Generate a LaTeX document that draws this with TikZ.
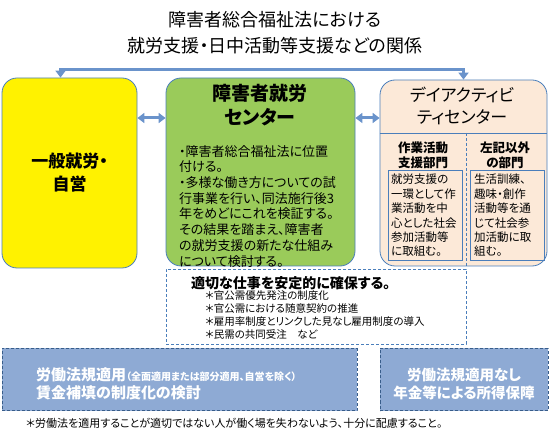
\documentclass[tikz,border=0pt]{standalone}
\usepackage{fontspec}
\setmainfont{Noto Sans CJK JP}[RawFeature=+palt]
\usetikzlibrary{arrows.meta, calc}
\definecolor{lineblue}{HTML}{4A7EBB}
\definecolor{darkblue}{HTML}{385D8A}
\definecolor{arrowblue}{HTML}{6A93CB}
\definecolor{boxgreen}{HTML}{9ACB5A}
\definecolor{boxpeach}{HTML}{FCE9D8}
\definecolor{boxsteel}{HTML}{8EAAD4}

\tikzset{
  roundbox/.style={draw=lineblue, line width=0.8pt, rounded corners=15pt, inner sep=0pt},
  flatbox/.style={draw=darkblue, line width=0.8pt, densely dashed, inner sep=0pt},
  innerbox/.style={draw=lineblue, line width=0.6pt, inner sep=0pt},
  link/.style={arrowblue, line width=3pt, {Triangle[width=10pt,length=7pt]}-{Triangle[width=10pt,length=7pt]}},
  para/.style={anchor=north west, inner sep=0pt, align=left},
}

\begin{document}
\begin{tikzpicture}[x=1pt, y=-1pt]
  \useasboundingbox (0,0) rectangle (549,438);

  % title
  \node[font=\fontsize{18}{26}\selectfont, align=center] (title) at (275,33)
    {障害者総合福祉法における\\就労支援・日中活動等支援などの関係};

  % three columns
  \node[roundbox, fill=yellow, minimum width=135pt, minimum height=190pt,
        font=\bfseries\fontsize{17}{23}\selectfont, align=center] (ippan) at (69.5,173)
    {一般就労・\\自営};
  \node[roundbox, fill=boxgreen, minimum width=189pt, minimum height=188pt] (shuro) at (260.5,172) {};
  \node[roundbox, fill=boxpeach, minimum width=167pt, minimum height=186pt] (dayact) at (463.5,173) {};

  \node[font=\bfseries\fontsize{19}{24}\selectfont, align=center] (shurotitle) at (260,105)
    {障害者就労\\センター};
  \node[para, font=\fontsize{13}{15.7}\selectfont] (shurobody) at (179,145)
    {・障害者総合福祉法に位置\\付ける。\\・多様な働き方についての試\\行事業を行い、同法施行後3\\年をめどにこれを検証する。\\その結果を踏まえ、障害者\\の就労支援の新たな仕組み\\について検討する。};

  \node[font=\fontsize{17}{22}\selectfont, align=center] (daytitle) at (462,106)
    {デイアクティビ\\ティセンター};
  \coordinate (sep) at (0,133);
  \draw[lineblue, line width=0.8pt] (dayact.west |- sep) -- (dayact.east |- sep);
  \draw[lineblue, line width=0.8pt, densely dashed] (466,133) -- (dayact.south -| 466,0);

  \node[font=\bfseries\fontsize{12.5}{15}\selectfont, align=center] (sagyo) at (423,155) {作業活動\\支援部門};
  \node[font=\bfseries\fontsize{12.5}{15}\selectfont, align=center] (sonota) at (505,155) {左記以外\\の部門};
  \node[innerbox, minimum width=74pt, minimum height=90pt] (sagyobox) at (425,215) {};
  \node[innerbox, minimum width=74pt, minimum height=90pt] (sonotabox) at (507,215) {};
  \node[para, font=\fontsize{11.5}{14.4}\selectfont] (sagyotxt) at (391,174)
    {就労支援の\\一環として作\\業活動を中\\心とした社会\\参加活動等\\に取組む。};
  \node[para, font=\fontsize{11.5}{14.4}\selectfont] (sonotatxt) at (474,174)
    {生活訓練、\\趣味・創作\\活動等を通\\じて社会参\\加活動に取\\組む。};

  % connectors
  \coordinate (bar) at (260,70);
  \coordinate (arow) at (0,118);
  \draw[link] ([xshift=-9pt]ippan.north) |- (bar) -| (dayact.north);
  \draw[link] (ippan.east |- arow) -- (shuro.west |- arow);
  \draw[link] (shuro.east |- arow) -- (dayact.west |- arow);

  % work box
  \node[flatbox, draw=lineblue, fill=white, minimum width=300pt, minimum height=75pt] (shigoto) at (316,306.5) {};
  \node[anchor=west, inner sep=0pt, font=\bfseries\fontsize{14}{16}\selectfont] (shigototitle) at (191,283)
    {適切な仕事を安定的に確保する。};
  \node[para, font=\fontsize{10.5}{13.2}\selectfont] (shigotolist) at (205,290)
    {＊官公需優先発注の制度化\\＊官公需における随意契約の推進\\＊雇用率制度とリンクした見なし雇用制度の導入\\＊民需の共同受注　など};

  % bottom boxes
  \node[flatbox, fill=boxsteel, minimum width=355pt, minimum height=62pt] (tekiyo) at (179.5,379.5) {};
  \node[flatbox, fill=boxsteel, minimum width=168pt, minimum height=62pt] (nashi) at (464,379.5) {};
  \node[para, white, font=\bfseries\fontsize{15}{18}\selectfont] (tekiyotxt) at (36,367)
    {労働法規適用{\fontsize{10}{12}\selectfont（全面適用または部分適用、自営を除く）}\\賃金補填の制度化の検討};
  \node[white, font=\bfseries\fontsize{14.5}{18}\selectfont, align=center] (nashitxt) at (464,384)
    {労働法規適用なし\\年金等による所得保障};

  % footnote
  \node[anchor=west, inner sep=0pt, font=\fontsize{11}{13}\selectfont] (chui) at (26,423)
    {＊労働法を適用することが適切ではない人が働く場を失わないよう、十分に配慮すること。};
\end{tikzpicture}
\end{document}
